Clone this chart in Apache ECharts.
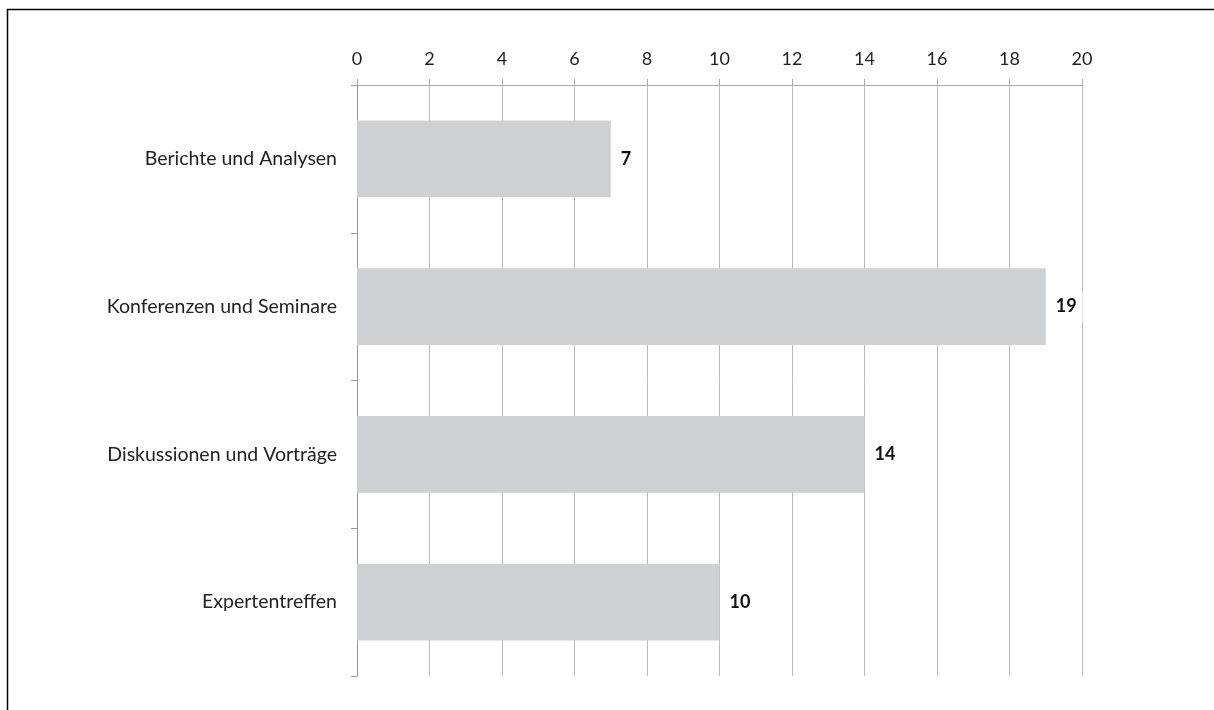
<!DOCTYPE html>
<html><head><meta charset="utf-8">
<script src="https://cdn.jsdelivr.net/npm/echarts@6/dist/echarts.min.js"></script>
<style>html,body{margin:0;padding:0;background:#fff}#c{width:1214px;height:710px}</style>
</head><body><div id="c"></div>
<script>
const categories = ['Berichte und Analysen', 'Konferenzen und Seminare', 'Diskussionen und Vorträge', 'Expertentreffen'];
const values = [7, 19, 14, 10];
const xTicks = [0, 2, 4, 6, 8, 10, 12, 14, 16, 18, 20];

const chart = echarts.init(document.getElementById('c'));
const FONT = 'Lato, "Open Sans", sans-serif';
chart.setOption({
  animation: false,
  backgroundColor: '#fff',
  textStyle: { fontFamily: FONT },
  graphic: [
    { type: 'line', shape: { x1: 7, y1: 9.5, x2: 1214, y2: 9.5 }, style: { stroke: '#000', lineWidth: 1.5 } },
    { type: 'line', shape: { x1: 7.5, y1: 9, x2: 7.5, y2: 710 }, style: { stroke: '#000', lineWidth: 1.5 } }
  ],
  grid: { left: 357, right: 132, top: 85, bottom: 34, containLabel: false },
  xAxis: {
    type: 'value', position: 'top', min: xTicks[0], max: xTicks[xTicks.length - 1], interval: 2,
    axisLine: { show: true, lineStyle: { color: '#aaa', width: 1 } },
    axisTick: { show: true, length: 6, lineStyle: { color: '#aaa' } },
    axisLabel: { color: '#222', fontSize: 18, margin: 17, fontFamily: FONT },
    splitLine: { show: true, lineStyle: { color: '#bbb', width: 1 } }
  },
  yAxis: {
    type: 'category', data: categories, inverse: true,
    axisLine: { show: true, lineStyle: { color: '#999', width: 1 } },
    axisTick: { show: true, length: 6, lineStyle: { color: '#999' } },
    axisLabel: { color: '#222', fontSize: 19.5, margin: 20, fontFamily: FONT },
    splitLine: { show: false }
  },
  series: [{
    type: 'bar', data: values, barWidth: '52%',
    itemStyle: { color: '#cfd0d2' },
    label: { show: true, position: 'right', distance: 4, color: '#111', fontWeight: 'bold', fontSize: 18,
      backgroundColor: '#fff', padding: [6, 6], fontFamily: FONT }
  }]
});
</script></body></html>
